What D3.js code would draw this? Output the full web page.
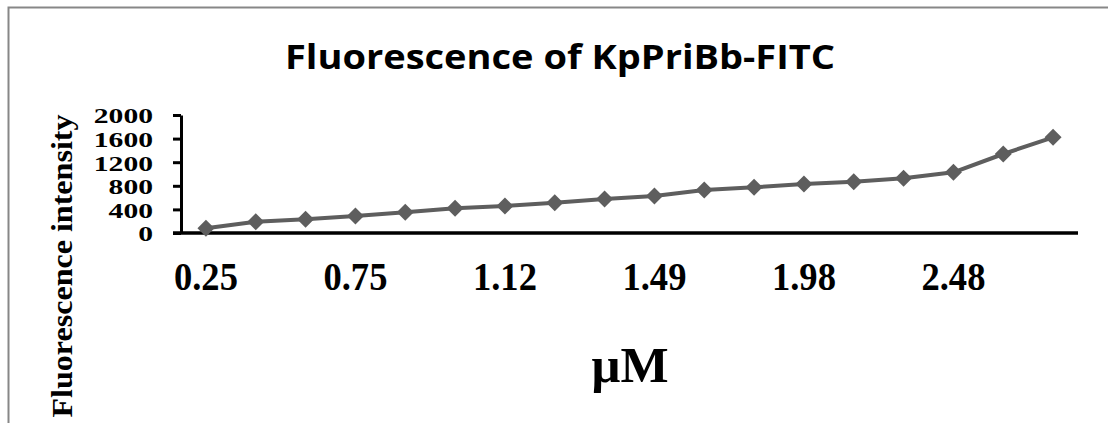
<!DOCTYPE html>
<html>
<head>
<meta charset="utf-8">
<script src="https://cdn.jsdelivr.net/npm/d3@7"></script>
<style>
  body { margin: 0; background: #fff; }
  svg { display: block; }
</style>
</head>
<body>
<div id="chart"></div>
<script>
// concentrations (uM) - only every third one is labelled on the axis
let concentrations = ["0.25", "0.42", "0.58", "0.75", "0.87", "1.00", "1.12", "1.24", "1.37",
                      "1.49", "1.65", "1.82", "1.98", "2.15", "2.31", "2.48", "2.65", "2.81"];
// fluorescence intensity
let intensity = [80, 192, 232, 288, 350, 418, 458, 514, 576, 627, 729, 774, 830, 870, 927, 1029, 1339, 1622];
let yTicks = [0, 400, 800, 1200, 1600, 2000];

let width = 1108, height = 423;
let margin = {top: 115, right: 30, bottom: 190, left: 181};

let svg = d3.select("#chart").append("svg")
    .attr("width", width)
    .attr("height", height);

// outer frame (top and left edges only visible)
svg.append("path")
    .attr("d", "M8.5," + height + "V7.5H" + width)
    .attr("fill", "none")
    .attr("stroke", "#878787")
    .attr("stroke-width", 2);

let x = d3.scaleBand()
    .domain(concentrations)
    .range([margin.left, 1078]);

let y = d3.scaleLinear()
    .domain([0, 2000])
    .range([height - margin.bottom, margin.top]);

// title
svg.append("text")
    .attr("x", 560)
    .attr("y", 69)
    .attr("text-anchor", "middle")
    .attr("font-family", "'Open Sans', 'Noto Sans', sans-serif")
    .attr("font-weight", "bold")
    .attr("font-size", 34)
    .attr("textLength", 550)
    .attr("lengthAdjust", "spacingAndGlyphs")
    .text("Fluorescence of KpPriBb-FITC");

// y axis
let yAxis = svg.append("g")
    .attr("transform", "translate(" + margin.left + ",0)")
    .call(d3.axisLeft(y).tickValues(yTicks).tickFormat(d3.format("d"))
        .tickSize(8).tickSizeOuter(0).tickPadding(20));

yAxis.select(".domain").attr("stroke", "#000").attr("stroke-width", 3);
yAxis.selectAll(".tick line").attr("stroke", "#000").attr("stroke-width", 3);
yAxis.selectAll(".tick text")
    .attr("font-family", "'Liberation Serif', 'Times New Roman', serif")
    .attr("font-weight", "bold")
    .attr("font-size", 22)
    .attr("fill", "#000")
    .attr("dy", "0.36em")
    .attr("textLength", function(d) { return String(d).length * 14.8; })
    .attr("lengthAdjust", "spacingAndGlyphs");

// x axis line, running from the tick ends to the right edge of the plot
svg.append("line")
    .attr("x1", margin.left - 8)
    .attr("x2", x.range()[1])
    .attr("y1", y(0))
    .attr("y2", y(0))
    .attr("stroke", "#000")
    .attr("stroke-width", 3.5);

let xAxis = svg.append("g")
    .attr("transform", "translate(0," + y(0) + ")")
    .call(d3.axisBottom(x).tickSize(0).tickPadding(44)
        .tickFormat(function(d, i) { return i % 3 === 0 ? d : ""; }));

xAxis.select(".domain").remove();
xAxis.selectAll(".tick text")
    .attr("font-family", "'Liberation Serif', 'Times New Roman', serif")
    .attr("font-weight", "bold")
    .attr("font-size", 41)
    .attr("fill", "#000")
    .attr("dy", "0.32em")
    .filter(function(d, i) { return i % 3 === 0; })
    .attr("textLength", 64)
    .attr("lengthAdjust", "spacingAndGlyphs");

// axis titles
svg.append("text")
    .attr("transform", "translate(72,266) rotate(-90)")
    .attr("text-anchor", "middle")
    .attr("font-family", "'Liberation Serif', 'Times New Roman', serif")
    .attr("font-weight", "bold")
    .attr("font-size", 30)
    .attr("textLength", 303)
    .attr("lengthAdjust", "spacingAndGlyphs")
    .text("Fluorescence intensity");

svg.append("text")
    .attr("x", 630)
    .attr("y", 382)
    .attr("text-anchor", "middle")
    .attr("font-family", "'Liberation Serif', 'Times New Roman', serif")
    .attr("font-weight", "bold")
    .attr("font-size", 51)
    .text("\u00b5M");

// data line
let cx = function(d, i) { return x(concentrations[i]) + x.bandwidth() / 2; };

let line = d3.line()
    .x(cx)
    .y(function(d) { return y(d); });

svg.append("path")
    .datum(intensity)
    .attr("d", line)
    .attr("fill", "none")
    .attr("stroke", "#5e5e5e")
    .attr("stroke-width", 4)
    .attr("stroke-linejoin", "round");

// diamond markers
let r = 8.5;
svg.selectAll("path.marker")
    .data(intensity)
    .enter().append("path")
    .attr("class", "marker")
    .attr("d", "M0," + (-r) + "L" + r + ",0L0," + r + "L" + (-r) + ",0Z")
    .attr("transform", function(d, i) { return "translate(" + cx(d, i) + "," + y(d) + ")"; })
    .attr("fill", "#5e5e5e");
</script>
</body>
</html>
